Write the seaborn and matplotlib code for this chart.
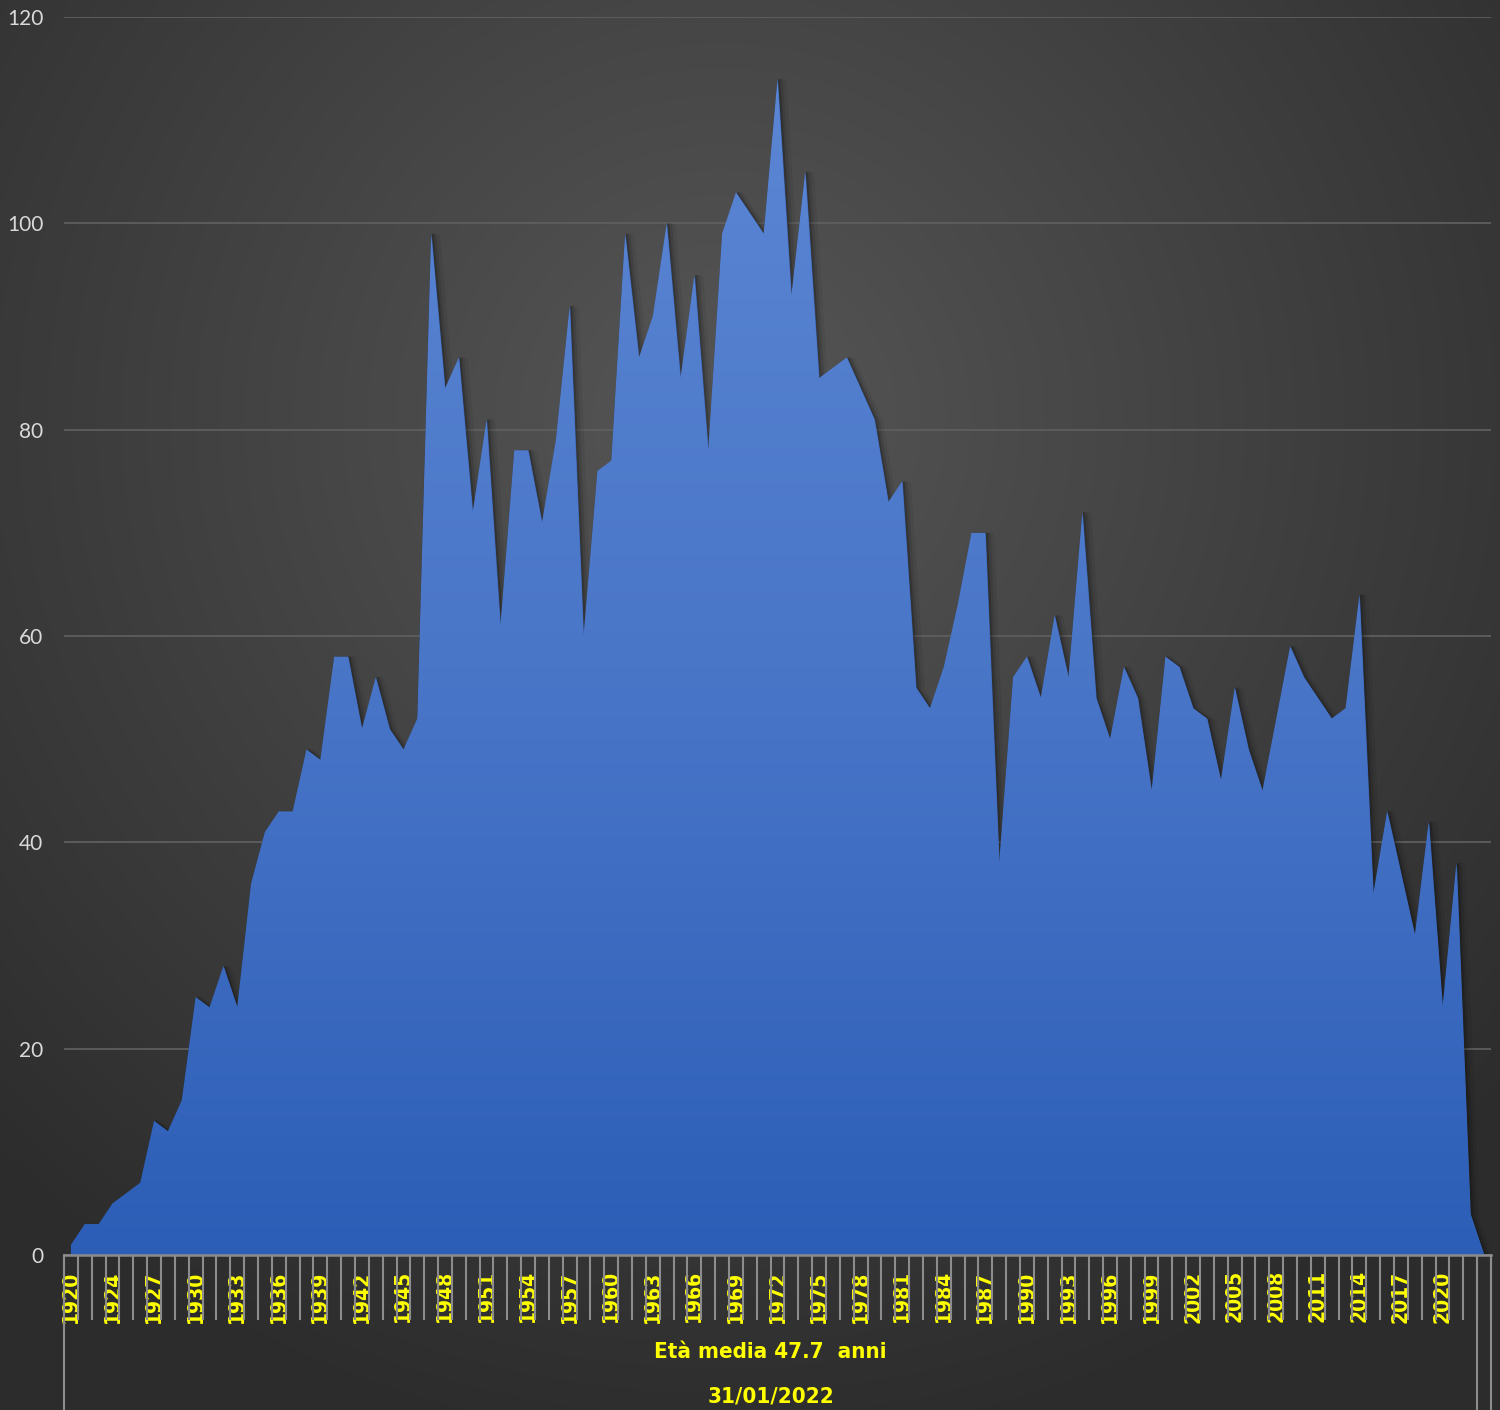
import numpy as np
import seaborn as sns
import matplotlib.pyplot as plt
import matplotlib.transforms as mtransforms
from matplotlib import font_manager
from matplotlib.colors import LinearSegmentedColormap

# ---------------- DATA ----------------
years = ["1920", "1921", "1922"] + [str(y) for y in range(1924, 2023)] + [""]
residents = [1, 3, 3, 5, 6, 7, 13, 12, 15, 25,
             24, 28, 24, 36, 41, 43, 43, 49, 48, 58,
             58, 51, 56, 51, 49, 52, 99, 84, 87, 72,
             81, 61, 78, 78, 71, 79, 92, 60, 76, 77,
             99, 87, 91, 100, 85, 95, 78, 99, 103, 101,
             99, 114, 93, 105, 85, 86, 87, 84, 81, 73,
             75, 55, 53, 57, 63, 70, 70, 38, 56, 58,
             54, 62, 56, 72, 54, 50, 57, 54, 45, 58,
             57, 53, 52, 46, 55, 49, 45, 52, 59, 56,
             54, 52, 53, 64, 35, 43, 37, 31, 42, 24,
             38, 4, 0]
group_label = "Età media 47.7  anni"
date_label = "31/01/2022"
y_ticks = [0, 20, 40, 60, 80, 100, 120]

# ---------------- STYLE ----------------
sns.set_theme(style="dark")
fonts = font_manager.fontManager.ttflist
if any(f.name == "Liberation Sans Narrow" for f in fonts):
    lab_font = dict(family=["Liberation Sans Narrow", "DejaVu Sans"])
    xsize, gsize = 19, 18
elif any(f.name == "DejaVu Sans" and f.stretch == "condensed" for f in fonts):
    lab_font = dict(family=["DejaVu Sans"], fontstretch="condensed")
    xsize, gsize = 15, 16
else:
    lab_font = dict(family=["DejaVu Sans"])
    xsize, gsize = 14, 15
plt.rcParams["font.family"] = ["Lato", "DejaVu Sans"]

W, H = 1500, 1410
fig = plt.figure(figsize=(W / 100, H / 100), dpi=100)

# dark radial background
bg = fig.add_axes([0, 0, 1, 1], zorder=-10)
yy, xx = np.mgrid[0:H, 0:W]
r = np.clip(np.hypot(xx - 720, yy - 420) / 1050, 0, 1)
bg_cmap = LinearSegmentedColormap.from_list("bg", ["#565656", "#2c2c2c"])
bg.imshow(r, cmap=bg_cmap, aspect="auto", extent=[0, 1, 0, 1])
bg.axis("off")

ax = fig.add_axes([64 / W, 1 - 1255 / H, (1491 - 64) / W, (1255 - 17) / H])
ax.patch.set_alpha(0)

x = np.arange(len(residents))

# soft shadow along the edge (a few faint offset strokes)
for off, lw, a in [(1.0, 2.0, 0.18), (2.0, 4.0, 0.10), (3.0, 7.0, 0.06)]:
    shadow = ax.transData + mtransforms.ScaledTranslation(off / 72, -off / 72, fig.dpi_scale_trans)
    sns.lineplot(x=x, y=residents, ax=ax, color="black", lw=lw, alpha=a,
                 transform=shadow, zorder=2, legend=False)

# area with vertical gradient
area = ax.fill_between(x, residents, 0, color="#3766bd", lw=0, zorder=3)
blue = LinearSegmentedColormap.from_list("blue", ["#2c5eb7", "#4a76c8", "#5b86d4"])
grad = np.linspace(0, 1, 256).reshape(-1, 1)
im = ax.imshow(grad, cmap=blue, extent=[-0.5, len(x) - 0.5, 0, max(residents)],
               aspect="auto", origin="lower", zorder=4)
im.set_clip_path(area.get_paths()[0], ax.transData)

ax.set_xlim(-0.5, len(x) - 0.5)
ax.set_ylim(0, 120)

# y axis
ax.set_yticks(y_ticks)
ax.tick_params(axis="y", length=0, pad=15, labelcolor="#d9d9d9", labelsize=15)
ax.grid(axis="y", color="#5e5e5e", lw=1.3)
ax.grid(axis="x", visible=False)
ax.set_axisbelow(True)

# x axis
ax.set_xticks(x[::3])
ax.set_xticklabels(years[::3], rotation=90, color="#ffff00", fontweight="bold",
                   fontsize=xsize, **lab_font)
ax.set_xticks(np.arange(-0.5, len(x), 1), minor=True)
ax.tick_params(axis="x", which="major", length=0, pad=11)
ax.tick_params(axis="x", which="minor", length=47, width=1.5, color="#8c8c8c",
               direction="out", bottom=True)

for s in ["top", "left", "right"]:
    ax.spines[s].set_visible(False)
ax.spines["bottom"].set_color("#8c8c8c")
ax.spines["bottom"].set_linewidth(1.8)
ax.spines["bottom"].set_zorder(6)

# multi-level category box
tr = mtransforms.blended_transform_factory(ax.transData, ax.transAxes)
for xv in [-0.5, len(x) - 1.5, len(x) - 0.5]:
    ax.plot([xv, xv], [0, -0.14], transform=tr, color="#8c8c8c", lw=1.5, clip_on=False)

mid = (len(x) - 2) / 2
ax.text(mid, -(1352 - 1255) / 1238, group_label, transform=tr, ha="center", va="center",
        color="#ffff00", fontweight="bold", fontsize=gsize, **lab_font)
ax.text(mid, -(1397 - 1255) / 1238, date_label, transform=tr, ha="center", va="center",
        color="#ffff00", fontweight="bold", fontsize=gsize, **lab_font)

fig.savefig("out.png", dpi=100)
